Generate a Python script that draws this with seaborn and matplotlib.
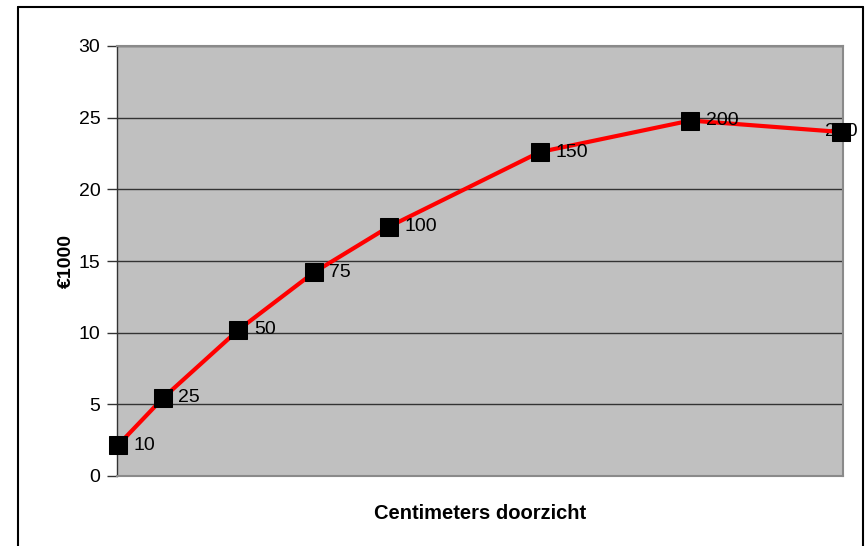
import numpy as np
import pandas as pd
import matplotlib
matplotlib.use('Agg')
import matplotlib.pyplot as plt
import seaborn as sns
from matplotlib.lines import Line2D

# data
centimeters = [10, 25, 50, 75, 100, 150, 200, 250]
value_k_eur = [2.15, 5.45, 10.2, 14.2, 17.4, 22.6, 24.8, 24.0]
point_labels = ['10', '25', '50', '75', '100', '150', '200', '250']
y_ticks = [0, 5, 10, 15, 20, 25, 30]

df = pd.DataFrame({'cm': centimeters, 'value': value_k_eur, 'label': point_labels})

sns.set_style('white')
plt.rcParams['font.family'] = ['Liberation Sans', 'DejaVu Sans']
plt.rcParams['text.color'] = 'black'
plt.rcParams['axes.labelcolor'] = 'black'
plt.rcParams['ytick.color'] = 'black'

W, H = 867, 546
fig = plt.figure(figsize=(W / 100, H / 100), dpi=100)
# plot area: x 117..843, y 46..476 (pixels)
ax = fig.add_axes([117 / W, 1 - 476 / H, (843 - 117) / W, (476 - 46) / H])
ax.set_facecolor('#c0c0c0')

sns.lineplot(data=df, x='cm', y='value', ax=ax, color='#ff0000', linewidth=3,
             marker='s', markersize=12.5, markerfacecolor='black',
             markeredgecolor='black', zorder=3, clip_on=False)

last = len(df) - 1
for i, row in df.iterrows():
    if i == last:
        # last label sits centred under the marker, as in the reference
        ax.annotate(row['label'], (row['cm'], row['value']), xytext=(0, 0),
                    textcoords='offset points', va='center', ha='center',
                    fontsize=14, color='black', zorder=2, annotation_clip=False)
    else:
        ax.annotate(row['label'], (row['cm'], row['value']), xytext=(11, 0),
                    textcoords='offset points', va='center', ha='left',
                    fontsize=14, color='black', zorder=4)

ax.set_xlim(9.67, 250.66)
ax.set_ylim(0, 30)
ax.set_yticks(y_ticks)
ax.set_xticks([])
ax.yaxis.grid(True, color='#333333', linewidth=1)
ax.set_axisbelow(True)
ax.tick_params(axis='y', which='both', left=True, length=7, width=1,
               color='#333333', labelcolor='black', labelsize=14, pad=5)

for side in ['top', 'right', 'bottom']:
    ax.spines[side].set_color('#8a8a8a')
    ax.spines[side].set_linewidth(1.5)
ax.spines['left'].set_color('#333333')
ax.spines['left'].set_linewidth(1)

ax.set_xlabel('Centimeters doorzicht', fontsize=14.5, fontweight='bold', labelpad=20)
ax.set_ylabel('€1000', fontsize=14, fontweight='bold', labelpad=3)

# outer frame (open at the bottom, like the cropped reference)
for xs, ys in [([18 / W, 18 / W], [0, 1 - 7 / H]),
               ([18 / W, 863 / W], [1 - 7 / H, 1 - 7 / H]),
               ([863 / W, 863 / W], [1 - 7 / H, 0])]:
    fig.add_artist(Line2D(xs, ys, color='black', linewidth=1.5))

fig.savefig('out.png', dpi=100)
